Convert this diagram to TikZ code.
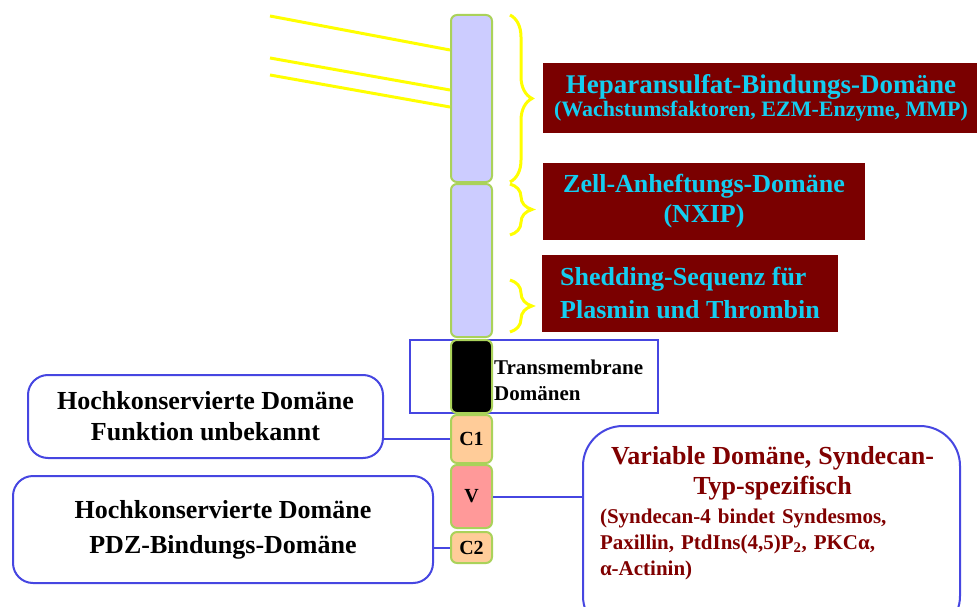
\documentclass[tikz,border=0pt]{standalone}
\usepackage{fontspec}
\setmainfont{Liberation Serif}
\usepackage{tikz}
\usetikzlibrary{decorations.pathreplacing}

\definecolor{lavender}{RGB}{204,204,255}
\definecolor{segline}{RGB}{170,210,90}
\definecolor{peach}{RGB}{255,204,153}
\definecolor{rosa}{RGB}{255,153,153}
\definecolor{boxred}{RGB}{122,0,0}
\definecolor{textcyan}{RGB}{20,205,240}
\definecolor{bordblue}{RGB}{70,70,225}
\definecolor{textred}{RGB}{128,0,0}
\definecolor{yel}{RGB}{255,255,0}

\newcommand{\fsz}[2]{\fontsize{#1}{#2}\selectfont\bfseries}

\begin{document}
\begin{tikzpicture}[x=1pt,y=-1pt,every node/.style={inner sep=0pt,font=\fsz{20}{24}},
	seg/.style={draw=segline,line width=2pt,rounded corners=6pt,minimum width=41pt},
	darkbox/.style={fill=boxred,text=textcyan},
	bluebox/.style={draw=bordblue,line width=2pt,rounded corners=20pt,align=center},
	yline/.style={draw=yel,line width=3pt},
	ybrace/.style={draw=yel,line width=3pt,decorate,decoration={brace,amplitude=22pt}},
	link/.style={draw=bordblue,line width=2pt}]
	\clip (0,0) rectangle (977,607);

	\coordinate (g1) at (270,16);
	\coordinate (g2) at (270,58);
	\coordinate (g3) at (270,75);

	\node (tm) at (534,376.5) [draw=bordblue,line width=2pt,minimum width=248pt,minimum height=73pt] {};
	\node (tmtext) at (494,380) [anchor=west,align=left,font=\fsz{21}{26}] {Transmembrane\\Domänen};

	\node (seg1) at (471.5,98.5) [seg,fill=lavender,minimum height=167pt] {};
	\node (seg2) at (471.5,260.5) [seg,fill=lavender,minimum height=153pt] {};
	\node (tmd) at (471.5,376.5) [seg,fill=black,minimum height=73pt] {};
	\node (c1) at (471.5,439) [seg,fill=peach,minimum height=48pt] {C1};
	\node (v) at (471.5,496.5) [seg,fill=rosa,minimum height=63pt] {V};
	\node (c2) at (471.5,547.5) [seg,fill=peach,minimum height=31pt] {C2};

	\draw[yline] (g1) -- ([yshift=48.5pt]seg1.west);
	\draw[yline] (g2) -- ([yshift=8.5pt]seg1.west);
	\draw[yline] (g3) -- ([yshift=-8.5pt]seg1.west);

	\draw[ybrace] (510,15) -- (510,182);
	\draw[ybrace] (510,184) -- (510,235);
	\draw[ybrace] (510,280) -- (510,332);

	\node (hep) at (761,98) [darkbox,minimum width=436pt,minimum height=70pt,align=center,font=\fsz{27}{20}] {Heparansulfat-Bindungs-Domäne\\\fsz{22}{20}(Wachstumsfaktoren, EZM-Enzyme, MMP)};
	\node (zell) at (704,201.5) [darkbox,minimum width=322pt,minimum height=77pt,align=center,font=\fsz{26}{30}] {Zell-Anheftungs-Domäne\\(NXIP)};
	\node (shed) at (690,293.5) [darkbox,minimum width=296pt,minimum height=77pt,align=left,font=\fsz{26}{33}] {Shedding-Sequenz für\\Plasmin und Thrombin};

	\node (hk1) at (205.5,416.5) [bluebox,minimum width=355pt,minimum height=83pt,font=\fsz{26}{31}] {Hochkonservierte Domäne\\Funktion unbekannt};
	\node (hk2) at (223,529.5) [bluebox,minimum width=420pt,minimum height=107pt,font=\fsz{26}{35}] {Hochkonservierte Domäne\\PDZ-Bindungs-Domäne};
	\node (var) at (771.5,425) [bluebox,rounded corners=40pt,anchor=north,minimum width=377pt,minimum height=210pt] {};
	\node (vartext) at (772.5,446) [anchor=north,text=textred,text width=345pt,align=left,font=\fsz{21}{26}] {{\centering\fsz{26}{30}Variable Domäne, Syndecan-\\Typ-spezifisch\par}\vspace{3pt}
		(Syndecan-4 bindet Syndesmos,\\Paxillin, PtdIns(4,5)P\textsubscript{2}, PKCα,\\α-Actinin)};

	\draw[link] (c1.west) -- (c1.west -| hk1.east);
	\draw[link] (c2.west) -- (c2.west -| hk2.east);
	\draw[link] (v.east) -- (v.east -| var.west);
\end{tikzpicture}
\end{document}
